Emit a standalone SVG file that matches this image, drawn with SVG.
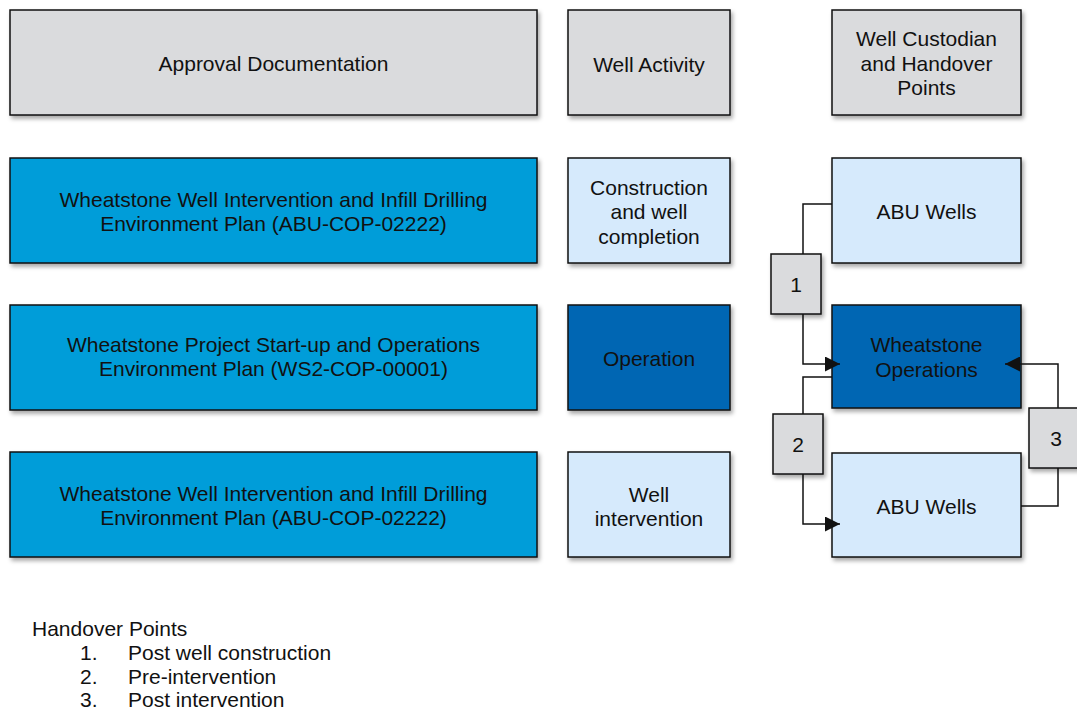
<svg xmlns="http://www.w3.org/2000/svg" width="1077" height="710" viewBox="0 0 1077 710">
  <style>
    text { font-family: "Liberation Sans", Arial, sans-serif; font-size: 21px; fill: #111; }
    .c { text-anchor: middle; }
    .box { stroke: #111; stroke-width: 1.5; filter: url(#shadow); }
    .gray { fill: #dadbdd; }
    .blue { fill: #019dd9; }
    .light { fill: #d6eafc; }
    .dark { fill: #0066b3; }
    .conn { fill: none; stroke: #111; stroke-width: 1.5; }
  </style>
  <defs>
    <filter id="shadow" x="-10%" y="-10%" width="130%" height="140%">
      <feDropShadow dx="2" dy="3" stdDeviation="2" flood-color="#000" flood-opacity="0.35"/>
    </filter>
    <marker id="arrow" viewBox="0 0 10 10" refX="10" refY="5" markerWidth="16" markerHeight="15" markerUnits="userSpaceOnUse" orient="auto">
      <path d="M0,0 L10,5 L0,10 z" fill="#111"/>
    </marker>
  </defs>
  <rect width="1077" height="710" fill="#fff"/>

  <!-- header row -->
  <g id="hdr-approval">
    <rect class="box gray" x="10" y="10" width="527" height="105"/>
    <text class="c" x="273.5" y="71">Approval Documentation</text>
  </g>
  <g id="hdr-activity">
    <rect class="box gray" x="568" y="10" width="162" height="105"/>
    <text class="c" x="649" y="72">Well Activity</text>
  </g>
  <g id="hdr-custodian">
    <rect class="box gray" x="832" y="10" width="189" height="105"/>
    <text class="c" x="926.5" y="46">Well Custodian</text>
    <text class="c" x="926.5" y="71">and Handover</text>
    <text class="c" x="926.5" y="95">Points</text>
  </g>

  <!-- row 1 -->
  <g id="doc-infill-1">
    <rect class="box blue" x="10" y="158" width="527" height="105"/>
    <text class="c" x="273.5" y="207">Wheatstone Well Intervention and Infill Drilling</text>
    <text class="c" x="273.5" y="231">Environment Plan (ABU-COP-02222)</text>
  </g>
  <g id="act-construction">
    <rect class="box light" x="568" y="158" width="162" height="105"/>
    <text class="c" x="649" y="195">Construction</text>
    <text class="c" x="649" y="219">and well</text>
    <text class="c" x="649" y="244">completion</text>
  </g>
  <g id="cust-abu-1">
    <rect class="box light" x="832" y="158" width="189" height="105"/>
    <text class="c" x="926.5" y="219">ABU Wells</text>
  </g>

  <!-- row 2 -->
  <g id="doc-operations">
    <rect class="box blue" x="10" y="305" width="527" height="105"/>
    <text class="c" x="273.5" y="352">Wheatstone Project Start-up and Operations</text>
    <text class="c" x="273.5" y="376">Environment Plan (WS2-COP-00001)</text>
  </g>
  <g id="act-operation">
    <rect class="box dark" x="568" y="305" width="162" height="105"/>
    <text class="c" x="649" y="366">Operation</text>
  </g>
  <g id="cust-operations">
    <rect class="box dark" x="832" y="305" width="189" height="103"/>
    <text class="c" x="926.5" y="352">Wheatstone</text>
    <text class="c" x="926.5" y="377">Operations</text>
  </g>

  <!-- row 3 -->
  <g id="doc-infill-2">
    <rect class="box blue" x="10" y="452" width="527" height="105"/>
    <text class="c" x="273.5" y="501">Wheatstone Well Intervention and Infill Drilling</text>
    <text class="c" x="273.5" y="525">Environment Plan (ABU-COP-02222)</text>
  </g>
  <g id="act-intervention">
    <rect class="box light" x="568" y="452" width="162" height="105"/>
    <text class="c" x="649" y="502">Well</text>
    <text class="c" x="649" y="526">intervention</text>
  </g>
  <g id="cust-abu-2">
    <rect class="box light" x="832" y="453" width="189" height="104"/>
    <text class="c" x="926.5" y="514">ABU Wells</text>
  </g>

  <!-- handover connectors -->
  <g id="connectors">
    <path class="conn" d="M832,204 H803 V254"/>
    <path class="conn" d="M803,314 V364 H840" marker-end="url(#arrow)"/>
    <path class="conn" d="M832,377 H803 V414"/>
    <path class="conn" d="M803,474 V524 H840" marker-end="url(#arrow)"/>
    <path class="conn" d="M1021,506 H1058 V468"/>
    <path class="conn" d="M1058,408 V364 H1005" marker-end="url(#arrow)"/>
  </g>

  <!-- handover point markers -->
  <g id="hp-1">
    <rect class="box gray" x="771" y="254" width="50" height="60"/>
    <text class="c" x="796" y="292">1</text>
  </g>
  <g id="hp-2">
    <rect class="box gray" x="773" y="414" width="50" height="60"/>
    <text class="c" x="798" y="452">2</text>
  </g>
  <g id="hp-3">
    <rect class="box gray" x="1029" y="408" width="50" height="60"/>
    <text class="c" x="1056" y="446">3</text>
  </g>

  <!-- legend -->
  <g id="legend">
    <text x="32" y="636">Handover Points</text>
    <text x="80" y="660">1.</text>
    <text x="128" y="660">Post well construction</text>
    <text x="80" y="684">2.</text>
    <text x="128" y="684">Pre-intervention</text>
    <text x="80" y="707">3.</text>
    <text x="128" y="707">Post intervention</text>
  </g>
</svg>
